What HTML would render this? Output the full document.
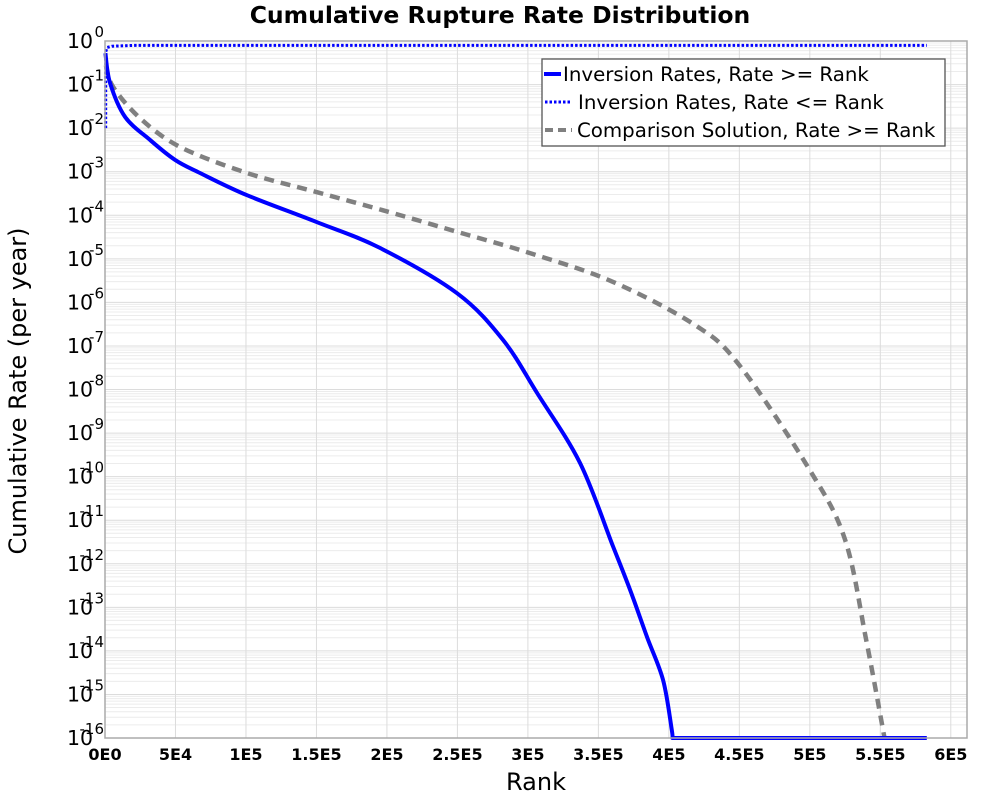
<!DOCTYPE html>
<html><head><meta charset="utf-8"><style>
body{margin:0;background:#fff;}
svg text{font-family:"DejaVu Sans","Liberation Sans",sans-serif;}
</style></head><body>
<svg id="chart" width="1000" height="800" xmlns="http://www.w3.org/2000/svg">
<text x="500" y="23" text-anchor="middle" font-size="23.5" font-weight="bold">Cumulative Rupture Rate Distribution</text>
<g id="grid"></g>
<g id="series"></g>
<rect x="105" y="41" width="862" height="697" fill="none" stroke="#aaa" stroke-width="1.5"/>
<g id="yticks"></g>
<g id="xticks"></g>
<text transform="translate(26,391) rotate(-90)" text-anchor="middle" font-size="24">Cumulative Rate (per year)</text>
<text x="536" y="790" text-anchor="middle" font-size="24">Rank</text>
<g>
<rect x="542" y="59" width="403" height="87" fill="#fff" stroke="#555" stroke-width="1.3"/>
<g><line x1="544" y1="74" x2="561" y2="74" stroke="#0000ff" stroke-width="4"/><text x="563" y="81" font-size="19.8">Inversion Rates, Rate &gt;= Rank</text></g>
<g><line x1="545" y1="102" x2="570" y2="102" stroke="#0000ff" stroke-width="3" stroke-dasharray="2.5,2"/><text x="578" y="109" font-size="19.8">Inversion Rates, Rate &lt;= Rank</text></g>
<g><line x1="545" y1="130" x2="572" y2="130" stroke="#808080" stroke-width="4" stroke-dasharray="8,5"/><text x="577" y="137" font-size="19.8">Comparison Solution, Rate &gt;= Rank</text></g>
</g>
</svg>
<script>
const xTicks=[0,50000,100000,150000,200000,250000,300000,350000,400000,450000,500000,550000,600000];
const xTickLabels=["0E0","5E4","1E5","1.5E5","2E5","2.5E5","3E5","3.5E5","4E5","4.5E5","5E5","5.5E5","6E5"];
const yExps=[0,-1,-2,-3,-4,-5,-6,-7,-8,-9,-10,-11,-12,-13,-14,-15,-16];
const invRank=[300,3550,14200,31900,49700,67400,100700,150400,195000,249700,282300,306500,337000,360400,372500,384500,395900,402000,402500,583000];
const invLog=[-0.28,-0.96,-1.74,-2.27,-2.73,-3.03,-3.54,-4.16,-4.75,-5.79,-6.86,-8.08,-9.69,-11.6,-12.6,-13.68,-14.67,-15.8,-16,-16];
const leRank=[500,500,1500,5000,20000,583000];
const leLog=[-2.0,-0.25,-0.15,-0.12,-0.1,-0.1];
const cmpRank=[600,5700,24800,53200,100700,150400,202000,249700,301500,360400,418500,450000,500000,525000,540000,553000];
const cmpLog=[-0.55,-1.05,-1.77,-2.43,-3.03,-3.47,-3.93,-4.38,-4.87,-5.53,-6.52,-7.44,-9.85,-11.45,-13.75,-16];
const X0=105,X1=967,Y0=41,Y1=738,XMAX=611500;
const sx=v=>X0+v/XMAX*(X1-X0);
const sy=l=>Y0+(-l)/16*(Y1-Y0);
const NS="http://www.w3.org/2000/svg";
function mk(tag,parent,attrs){const e=document.createElementNS(NS,tag);for(const k in attrs)e.setAttribute(k,attrs[k]);parent.appendChild(e);return e;}
const grid=document.getElementById('grid');
for(let d=0;d<16;d++){for(let m=2;m<10;m++){const y=sy(-d-1+Math.log10(m));
const l=mk('line',grid,{x1:X0,x2:X1,y1:y,y2:y,stroke:'#ececec','stroke-width':1});

}}
yExps.forEach(e=>{const y=sy(e);const l=mk('line',grid,{x1:X0,x2:X1,y1:y,y2:y,stroke:'#dcdcdc','stroke-width':1});

});
xTicks.forEach(v=>{const x=sx(v);const l=mk('line',grid,{x1:x,x2:x,y1:Y0,y2:Y1,stroke:'#dcdcdc','stroke-width':1});

});
const yt=document.getElementById('yticks');
yExps.forEach(e=>{const y=sy(e);const t=mk('text',yt,{x:67,y:y+7,'font-size':20.5});


t.textContent='10';
const s=mk('text',yt,{x:104,y:y-4,'font-size':15,'text-anchor':'end'});


s.textContent=String(e);});
const xt=document.getElementById('xticks');
xTicks.forEach((v,i)=>{const t=mk('text',xt,{x:sx(v),y:760,'text-anchor':'middle','font-size':16,'font-weight':'bold'});


t.textContent=xTickLabels[i];});
const ser=document.getElementById('series');
function linePath(xs,ls){return xs.map((v,i)=>(i?'L':'M')+sx(v).toFixed(1)+','+sy(ls[i]).toFixed(1)).join(' ');}
function smoothPath(xs,ls,nSmooth){
  const P=xs.map((v,i)=>[sx(v),sy(ls[i])]);
  let d='M'+P[0][0].toFixed(1)+','+P[0][1].toFixed(1);
  for(let i=0;i<nSmooth-1;i++){
    const p0=P[Math.max(i-1,0)],p1=P[i],p2=P[i+1],p3=P[Math.min(i+2,nSmooth-1)];
    const c1=[p1[0]+(p2[0]-p0[0])/6,p1[1]+(p2[1]-p0[1])/6];
    const c2=[p2[0]-(p3[0]-p1[0])/6,p2[1]-(p3[1]-p1[1])/6];
    d+=' C'+c1.map(n=>n.toFixed(1)).join(',')+' '+c2.map(n=>n.toFixed(1)).join(',')+' '+p2[0].toFixed(1)+','+p2[1].toFixed(1);
  }
  for(let i=nSmooth;i<P.length;i++)d+=' L'+P[i][0].toFixed(1)+','+P[i][1].toFixed(1);
  return d;
}
const p3=mk('path',ser,{d:smoothPath(cmpRank,cmpLog,cmpRank.length),fill:'none',stroke:'#808080','stroke-width':4.5,'stroke-dasharray':'10,7'});


const p2=mk('path',ser,{d:linePath(leRank,leLog),fill:'none',stroke:'#0000ff','stroke-width':3,'stroke-dasharray':'2.5,2'});


const p1=mk('path',ser,{d:smoothPath(invRank,invLog,invRank.length-1),fill:'none',stroke:'#0000ff','stroke-width':4,'stroke-linejoin':'round'});


</script>
</body></html>
